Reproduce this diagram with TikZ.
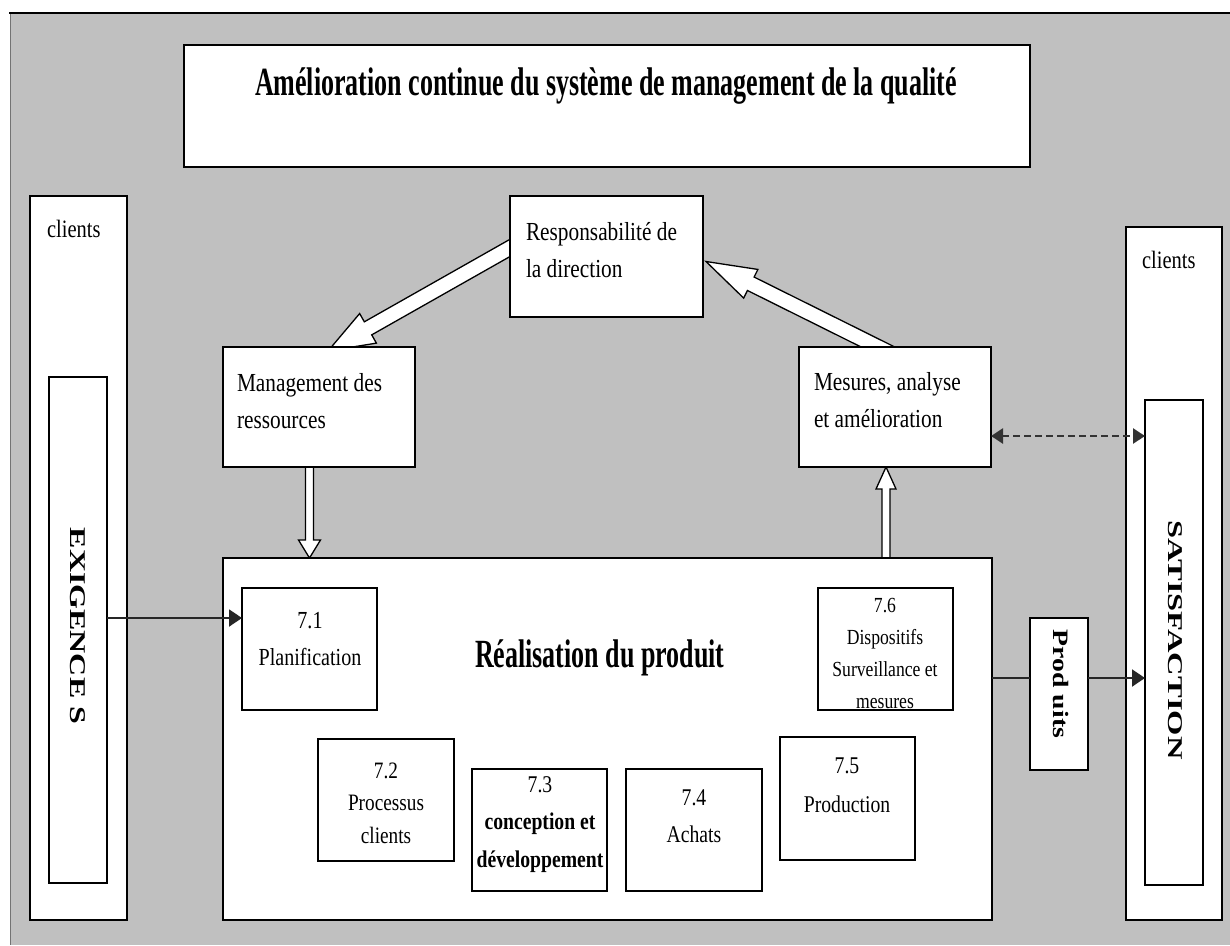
\documentclass[tikz,border=0pt]{standalone}
\usepackage{fontspec}
\usepackage{graphicx}
\setmainfont{Liberation Serif}
\newfontfamily\bodyf[FakeStretch=0.82]{Liberation Serif}
\newfontfamily\bigf[FakeStretch=0.65]{Liberation Serif}
\usetikzlibrary{arrows.meta,calc}
\definecolor{bggray}{HTML}{C0C0C0}
\pgfdeclarelayer{bgl}
\pgfdeclarelayer{arrl}
\pgfsetlayers{bgl,arrl,main}
\tikzset{
  box/.style={draw=black, line width=1.4pt, fill=white, inner sep=0pt, outer sep=0pt, anchor=north west},
  txt/.style={inner sep=0pt, outer sep=0pt, font=\bodyf\fontsize{26}{37}\selectfont},
  ctxt/.style={txt, align=center, anchor=base},
  ltxt/.style={txt, align=left, anchor=base west},
  rottxt/.style={inner sep=0pt, outer sep=0pt, rotate=-90, font=\bfseries},
  hollow/.style={draw=black, line width=1.3pt, fill=white, line join=miter},
  conn/.style={draw=black!85, line width=2pt},
  arrtip/.style={-{Triangle[length=13pt,width=17pt]}},
  dashconn/.style={draw=black!80, line width=2.5pt, dash pattern=on 7pt off 4pt,
    {Triangle[length=12pt,width=15pt]}-{Triangle[length=12pt,width=15pt]}},
}
\newcommand\hollowarrow[5]{%
  \coordinate (hab) at ($(#2)!#5!(#1)$);
  \draw[hollow] ($(#1)!#3!90:(#2)$) -- ($(hab)!#3!90:(#2)$) -- ($(hab)!#4!90:(#2)$) -- (#2)
     -- ($(hab)!#4!-90:(#2)$) -- ($(hab)!#3!-90:(#2)$) -- ($(#1)!#3!-90:(#2)$) -- cycle;}
\begin{document}
\begin{tikzpicture}[x=1pt,y=-1pt]
\useasboundingbox (0,0) rectangle (1230,945);
\begin{pgfonlayer}{bgl}
  \fill[white] (0,0) rectangle (1230,945);
  \fill[bggray] (10,13) rectangle (1230,945);
  \draw[black!55, line width=0.8pt] (10,13) -- (10,945);
  \draw[black, line width=2.2pt] (9,13) -- (1230,13);
\end{pgfonlayer}

% boxes
\node[box, minimum width=846pt, minimum height=122pt] (title) at (184,45) {};
\node[box, minimum width=97pt, minimum height=724pt] (clientsL) at (30,196) {};
\node[box, minimum width=58pt, minimum height=506pt] (exig) at (49,377) {};
\node[box, minimum width=193pt, minimum height=121pt] (resp) at (510,196) {};
\node[box, minimum width=192pt, minimum height=120pt] (mgmt) at (223,347) {};
\node[box, minimum width=192pt, minimum height=120pt] (mes) at (799,347) {};
\node[box, minimum width=96pt, minimum height=693pt] (clientsR) at (1126,227) {};
\node[box, minimum width=58pt, minimum height=485pt] (satis) at (1145,400) {};
\node[box, minimum width=769pt, minimum height=362pt] (real) at (223,558) {};
\node[box, minimum width=135pt, minimum height=122pt] (b71) at (242,588) {};
\node[box, minimum width=136pt, minimum height=122pt] (b72) at (318,739) {};
\node[box, minimum width=135pt, minimum height=122pt] (b73) at (472,769) {};
\node[box, minimum width=136pt, minimum height=122pt] (b74) at (626,769) {};
\node[box, minimum width=135pt, minimum height=123pt] (b75) at (780,737) {};
\node[box, minimum width=135pt, minimum height=122pt] (b76) at (818,588) {};
\node[box, minimum width=58pt, minimum height=152pt] (prod) at (1030,618) {};

% texts (anchor base = baseline of the last line)
\node[txt, anchor=base, font=\bigf\bfseries\fontsize{40}{44}\selectfont] (titleT) at (606,95)
  {Amélioration continue du système de management de la qualité};
\node[ltxt, font=\bodyf\fontsize{25}{37}\selectfont] (clientsLT) at (47,237) {clients};
\node[ltxt, font=\bodyf\fontsize{25}{37}\selectfont] (clientsRT) at (1142,268) {clients};
\node[ltxt] (respT) at (526,277) {Responsabilité de\\la direction};
\node[ltxt] (mgmtT) at (237,428) {Management des\\ressources};
\node[ltxt] (mesT) at (814,427) {Mesures, analyse\\et amélioration};
\node[txt, anchor=base west, font=\bigf\bfseries\fontsize{40}{44}\selectfont] (realT) at (475,667)
  {Réalisation du produit};
\node[ctxt, font=\bodyf\fontsize{24.5}{37}\selectfont] (b71T) at (310,665) {7.1\\Planification};
\node[ctxt, font=\bodyf\fontsize{23.5}{32.5}\selectfont] (b72T) at (386,843) {7.2\\Processus\\clients};
\node[ctxt, font=\bodyf\fontsize{24}{37.5}\selectfont] (b73T) at (540,867)
  {7.3\\\textbf{conception et}\\\textbf{développement}};
\node[ctxt, font=\bodyf\fontsize{24}{37}\selectfont] (b74T) at (694,842) {7.4\\Achats};
\node[ctxt, font=\bodyf\fontsize{24}{39}\selectfont] (b75T) at (847,812) {7.5\\Production};
\node[ctxt, font=\bodyf\fontsize{21.5}{32}\selectfont] (b76T) at (885,708)
  {7.6\\Dispositifs\\Surveillance et\\mesures};
\node[rottxt, font=\bfseries\fontsize{22.5}{24}\selectfont] (exigT) at (78,626) {\scalebox{1.42}[1]{EXIGENCE S}};
\node[rottxt, font=\bfseries\fontsize{21}{24}\selectfont] (satisT) at (1175,640) {\scalebox{1.55}[1]{SATISFACTION}};
\node[rottxt, font=\bfseries\fontsize{22}{24}\selectfont] (prodT) at (1061,684) {\scalebox{1.26}[1]{Prod uits}};

% connectors
\coordinate (e1) at ($(b71.north west)+(0,30)$);
\draw[conn, arrtip] (e1 -| exig.east) -- (e1);
\coordinate (p1) at ($(prod.north west)+(0,60)$);
\draw[conn] (p1 -| real.east) -- (p1);
\draw[conn, arrtip] (p1 -| prod.east) -- (p1 -| satis.west);
\coordinate (d1) at ($(mes.north east)+(0,89)$);
\draw[dashconn] (d1) -- (d1 -| satis.west);

% hollow arrows
\begin{pgfonlayer}{arrl}
  \coordinate (a1t) at ($(resp.west)+(6,-12)$);
  \coordinate (a1h) at ($(mgmt.north)+(9,4)$);
  \hollowarrow{a1t}{a1h}{7.5pt}{17pt}{46pt}
  \coordinate (a2t) at ($(mes.north)+(-5,6)$);
  \coordinate (a2h) at ($(resp.east)+(3,5)$);
  \hollowarrow{a2t}{a2h}{7.5pt}{16pt}{50pt}
  \coordinate (a3t) at ($(mgmt.south)+(-9.5,-6)$);
  \coordinate (a3h) at (a3t |- real.north);
  \hollowarrow{a3t}{a3h}{4pt}{11pt}{18pt}
  \coordinate (a4t) at ($(real.north)+(278.5,8)$);
  \coordinate (a4h) at (a4t |- mes.south);
  \hollowarrow{a4t}{a4h}{4pt}{10pt}{22pt}
\end{pgfonlayer}
\end{tikzpicture}
\end{document}
